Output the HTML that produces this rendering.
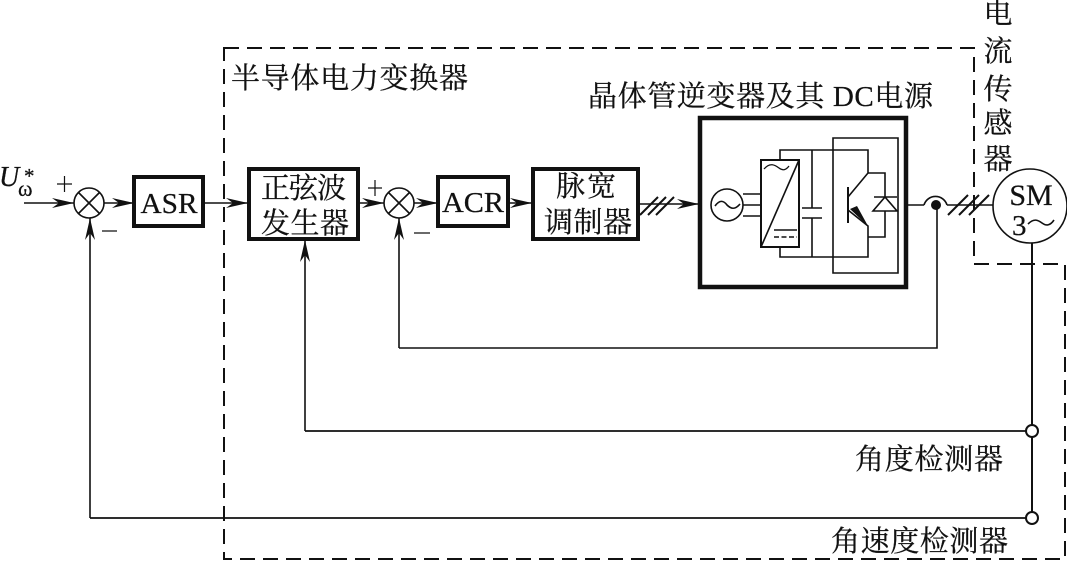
<!DOCTYPE html>
<html><head><meta charset="utf-8"><style>
html,body{margin:0;padding:0;background:#fff}
svg{display:block}
text{font-family:"Liberation Serif","Noto Serif CJK SC",serif;fill:#111;stroke:#111;stroke-width:.25}
</style></head><body>
<svg width="1067" height="561" viewBox="0 0 1067 561" xmlns="http://www.w3.org/2000/svg">
<defs>
<path id="ah" d="M0 0 L-22 -5 L-15 0 L-22 5 Z" fill="#111"/>
<path id="au" d="M0 0 L-5 22 L0 15 L5 22 Z" fill="#111"/>
</defs>
<rect width="1067" height="561" fill="#fff"/>
<path d="M224 48H974V264H1065V559H224Z" fill="none" stroke="#111" stroke-width="2" stroke-dasharray="15 8"/>
<g fill="none" stroke="#111" stroke-width="4">
<rect x="134" y="177" width="69" height="49"/>
<rect x="249" y="169" width="109" height="70"/>
<rect x="438" y="177" width="70" height="49"/>
<rect x="533" y="169" width="105" height="70"/>
<rect x="700" y="118" width="206" height="169" stroke-width="4.5"/>
</g>
<g fill="none" stroke="#111" stroke-width="1.6">
<path d="M24 203H74M104 203H134M203 203H249M358 203H384M414 203H438M508 203H533M638 204H699"/>
<circle cx="89" cy="203" r="15"/>
<path d="M78.500 192.500L99.500 213.500M99.500 192.500L78.500 213.500"/>
<circle cx="399" cy="203" r="15"/>
<path d="M388.500 192.500L409.500 213.500M409.500 192.500L388.500 213.500"/>
<path d="M90 518V218M305 431V239M399 348V218M399 348H937V205"/>
<path d="M90 518H1026M305 431H1026" stroke-width="1.800"/>
<path d="M1032 243V512M1032 437V512" stroke-width="2"/>
<circle cx="1032" cy="431" r="6" fill="#fff" stroke-width="2"/>
<circle cx="1032" cy="518" r="6" fill="#fff" stroke-width="2"/>
<path d="M640 215L658 197M648 215L666 197M656 215L674 197" stroke-width="2"/>
<path d="M948 215L968 195M959 215L979 195M969 215L989 195" stroke-width="2"/>
<path d="M907 205H924M924 205A12 12 0 0 1 947 205M947 205H993"/>
<circle cx="1030" cy="206" r="37"/>
<circle cx="727" cy="205" r="16"/>
<path d="M715 206C720 199 724 201 727 205C731 209 735 210 740 204"/>
<path d="M743 194H761M743 205H761M743 216H761"/>
<rect x="761" y="160" width="38" height="87" stroke-width="2"/>
<path d="M761 247L799 160"/>
<path d="M764 169C770 162 775 165 779 168C783 171 786 170 789 166" stroke-width="1.300"/>
<path d="M774 230H797"/>
<path d="M774 237H797" stroke-dasharray="5 2.500"/>
<path d="M780 160V150H868V173L848 197M780 247V257H868V226L848 210"/>
<path d="M812 150V208M812 218V257"/>
<path d="M802 208H822M802 218H822"/>
<path d="M848 187V223" stroke-width="2"/>
<path d="M833 273V138H898V273Z"/>
<path d="M868 173H885V197M885 211V237H868"/>
<path d="M874 197H897M873 211H897L885 197Z"/>
<path d="M1028 224C1034 218 1038 220 1042 223C1046 226 1050 226 1054 220"/>
</g>
<path d="M868 226L850 209L857 206Z" fill="#111"/>
<circle cx="936" cy="205" r="5" fill="#111"/>
<use href="#ah" x="74" y="203"/>
<use href="#ah" x="134" y="203"/>
<use href="#ah" x="248" y="203"/>
<use href="#ah" x="384" y="203"/>
<use href="#ah" x="438" y="203"/>
<use href="#ah" x="532" y="203"/>
<use href="#ah" x="699" y="204"/>
<use href="#au" x="90" y="218"/>
<use href="#au" x="305" y="240"/>
<use href="#au" x="399" y="218"/>

<text x="-1" y="186" font-size="28" font-style="italic">U</text>
<text x="18" y="196" font-size="22">ω</text>
<text x="24" y="183" font-size="21">*</text>
<path d="M57 184H72M64.500 176V192M102 231H117M368 188H382M375 180V196M414 233H430" stroke="#111" stroke-width="1.200" fill="none"/>
<text x="169" y="213" font-size="29" text-anchor="middle" textLength="57" lengthAdjust="spacingAndGlyphs">ASR</text>
<text x="473" y="212" font-size="29" text-anchor="middle" textLength="62" lengthAdjust="spacingAndGlyphs">ACR</text>
<text x="261" y="198" font-size="29" textLength="85">正弦波</text>
<text x="261" y="233" font-size="29" textLength="88">发生器</text>
<text x="556" y="196" font-size="29" textLength="60">脉宽</text>
<text x="544" y="232" font-size="29" textLength="88">调制器</text>
<text x="231" y="88" font-size="29" textLength="237">半导体电力变换器</text>
<text x="588" y="106" font-size="29" textLength="345">晶体管逆变器及其 DC电源</text>
<text x="855" y="469" font-size="29" textLength="148">角度检测器</text>
<text x="831" y="551" font-size="29" textLength="177">角速度检测器</text>
<g font-size="29" text-anchor="middle">
<text x="998" y="23">电</text>
<text x="998" y="61">流</text>
<text x="998" y="99">传</text>
<text x="998" y="133">感</text>
<text x="998" y="169">器</text>
</g>
<text x="1031" y="205" font-size="30" text-anchor="middle">SM</text>
<text x="1012" y="235" font-size="29">3</text>
</svg>
</body></html>
